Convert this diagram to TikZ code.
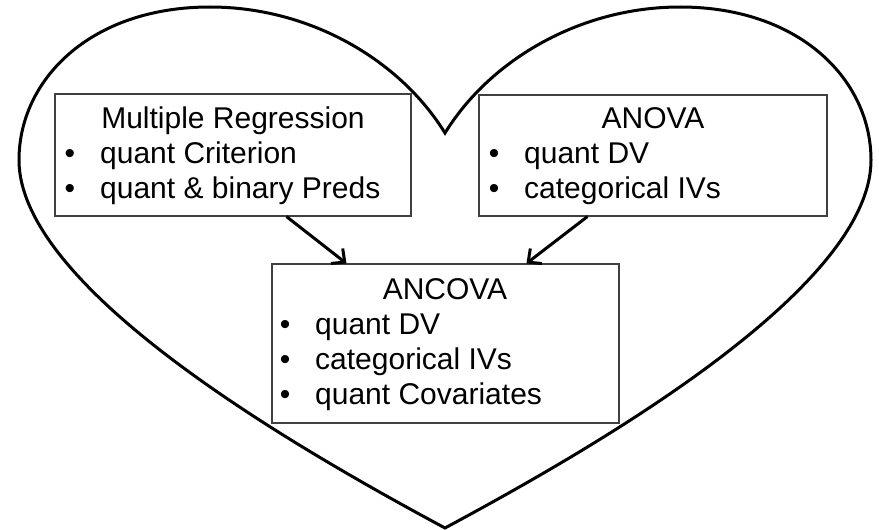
\documentclass[tikz,border=0pt]{standalone}
\usepackage{fontspec}
\setmainfont{Liberation Sans}
\usetikzlibrary{arrows.meta}
\begin{document}
\begin{tikzpicture}[x=1pt,y=-1pt,
  heartline/.style={line width=3pt,line join=miter},
  boxstyle/.style={draw=black!75,line width=1.1pt,rectangle,inner sep=0pt},
  txt/.style={inner sep=0pt,font=\fontsize{30}{35}\selectfont},
  arr/.style={line width=3pt,-{Straight Barb[length=10pt,width=19pt]}}]
\useasboundingbox (0,0) rectangle (879,530);
% heart
\draw[heartline] (445,133) .. controls (400,60) and (310,7) .. (210,7)
  .. controls (90,7) and (19,80) .. (19,160)
  .. controls (19,290) and (300,450) .. (445,528)
  .. controls (590,450) and (871,290) .. (871,160)
  .. controls (871,80) and (800,7) .. (680,7)
  .. controls (580,7) and (490,60) .. (445,133) -- cycle;
% boxes
\node[boxstyle,minimum width=356pt,minimum height=122pt] (mr) at (233,155) {};
\node[boxstyle,minimum width=348pt,minimum height=121pt] (an) at (653,155.5) {};
\node[boxstyle,minimum width=347pt,minimum height=159pt] (anc) at (445.5,343.5) {};
% Multiple Regression text
\node[txt,anchor=base] (mrt) at (233,128) {Multiple Regression};
\node[txt,anchor=base] (mrb1) at (70,163) {•};
\node[txt,anchor=base west] (mr1) at (100,163) {quant Criterion};
\node[txt,anchor=base] (mrb2) at (70,198) {•};
\node[txt,anchor=base west] (mr2) at (100,198) {quant \& binary Preds};
% ANOVA text
\node[txt,anchor=base] (ant) at (653,128) {ANOVA};
\node[txt,anchor=base] (anb1) at (494,163) {•};
\node[txt,anchor=base west] (an1) at (524,163) {quant DV};
\node[txt,anchor=base] (anb2) at (494,198) {•};
\node[txt,anchor=base west] (an2) at (524,198) {categorical IVs};
% ANCOVA text
\node[txt,anchor=base] (anct) at (445,299) {ANCOVA};
\node[txt,anchor=base] (ancb1) at (285,334) {•};
\node[txt,anchor=base west] (anc1) at (315,334) {quant DV};
\node[txt,anchor=base] (ancb2) at (285,369) {•};
\node[txt,anchor=base west] (anc2) at (315,369) {categorical IVs};
\node[txt,anchor=base] (ancb3) at (285,404) {•};
\node[txt,anchor=base west] (anc3) at (315,404) {quant Covariates};
% arrows
\draw[arr] ([xshift=232pt]mr.south west) -- ([xshift=75pt]anc.north west);
\draw[arr] ([xshift=109pt]an.south west) -- ([xshift=255pt]anc.north west);
\end{tikzpicture}
\end{document}
